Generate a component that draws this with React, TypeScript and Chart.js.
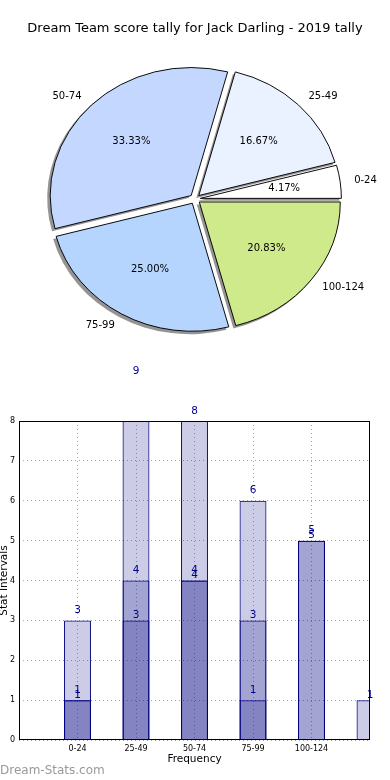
import React, { useEffect, useRef } from 'react';
import { Chart, registerables } from 'chart.js';

Chart.register(...registerables);

// ---------- data ----------
const chartTitle = 'Dream Team score tally for Jack Darling - 2019 tally';
const pieLabels = ['0-24', '25-49', '50-74', '75-99', '100-124'];
const pieValues = [1, 4, 8, 6, 5];
const pieColors = ['#ffffff', '#eaf1ff', '#c4d8ff', '#b5d5ff', '#cfea8b'];

const barCategories = ['0-24', '25-49', '50-74', '75-99', '100-124', ''];
const seriesA: (number | null)[] = [3, 9, 8, 6, null, null];
const seriesB: (number | null)[] = [1, 4, 4, 1, 5, null];
const seriesC: (number | null)[] = [1, 3, 4, 3, 5, 1];
const yTickValues = [0, 1, 2, 3, 4, 5, 6, 7, 8];
const xAxisTitle = 'Frequency';
const yAxisTitle = 'Stat Intervals';
const watermark = 'Dream-Stats.com';

// ---------- style constants ----------
const FONT = '"DejaVu Sans", sans-serif';
const SY = 128 / 141; // vertical squash of the pie (ellipse)
const EXPLODE = 5.4;
const LABEL_OFFSETS = [10, 10, 5];

const pieDecor = {
  id: 'pieDecor',
  afterDatasetsUpdate(chart: any) {
    const meta = chart.getDatasetMeta(0);
    meta.data.forEach((arc: any) => {
      const mid = (arc.startAngle + arc.endAngle) / 2;
      arc.x += Math.cos(mid) * EXPLODE;
      arc.y += Math.sin(mid) * EXPLODE;
    });
  },
  beforeDatasetsDraw(chart: any) {
    const { ctx, chartArea } = chart;
    const cx = (chartArea.left + chartArea.right) / 2;
    const cy = (chartArea.top + chartArea.bottom) / 2;
    const meta = chart.getDatasetMeta(0);
    // shadow pass
    ctx.save();
    ctx.translate(-2.5, 2.5);
    ctx.translate(cx, cy);
    ctx.scale(1, SY);
    ctx.translate(-cx, -cy);
    ctx.fillStyle = 'rgba(0,0,0,0.42)';
    meta.data.forEach((arc: any) => {
      ctx.beginPath();
      ctx.moveTo(arc.x, arc.y);
      ctx.arc(arc.x, arc.y, arc.outerRadius + 0.5, arc.startAngle, arc.endAngle);
      ctx.closePath();
      ctx.fill();
    });
    ctx.restore();
    // ellipse transform for the slices themselves
    ctx.save();
    ctx.translate(cx, cy);
    ctx.scale(1, SY);
    ctx.translate(-cx, -cy);
  },
  afterDatasetsDraw(chart: any) {
    const { ctx, chartArea } = chart;
    ctx.restore();
    const cy = (chartArea.top + chartArea.bottom) / 2;
    const meta = chart.getDatasetMeta(0);
    const data = chart.data.datasets[0].data as number[];
    const labels = chart.data.labels as string[];
    const total = data.reduce((a, b) => a + b, 0);
    ctx.save();
    ctx.font = `10px ${FONT}`;
    ctx.fillStyle = '#000';
    ctx.textBaseline = 'middle';
    meta.data.forEach((arc: any, i: number) => {
      const mid = (arc.startAngle + arc.endAngle) / 2;
      const R = arc.outerRadius;
      const c = Math.cos(mid);
      const s = Math.sin(mid);
      const lx = arc.x + c * R * 1.1;
      const ly = cy + (arc.y + s * R * 1.1 - cy) * SY;
      ctx.textAlign = c > 0 ? 'left' : 'right';
      ctx.fillText(labels[i], lx, ly);
      const px = arc.x + c * R * 0.6;
      const py = cy + (arc.y + s * R * 0.6 - cy) * SY;
      ctx.textAlign = 'center';
      ctx.fillText(((data[i] / total) * 100).toFixed(2) + '%', px, py);
    });
    ctx.restore();
  },
  afterDraw(chart: any) {
    const { ctx } = chart;
    ctx.save();
    ctx.font = `13px ${FONT}`;
    ctx.fillStyle = '#000';
    ctx.textAlign = 'center';
    ctx.textBaseline = 'middle';
    ctx.fillText(chartTitle, 195, 29);
    ctx.restore();
  },
};

const barSeries = [seriesA, seriesB, seriesC];

const barDecor = {
  id: 'barDecor',
  afterDatasetsDraw(chart: any) {
    const { ctx } = chart;
    ctx.save();
    ctx.font = `10.5px ${FONT}`;
    ctx.fillStyle = '#00008b';
    ctx.textAlign = 'center';
    ctx.textBaseline = 'middle';
    barSeries.forEach((series, di) => {
      const meta = chart.getDatasetMeta(di);
      meta.data.forEach((bar: any, j: number) => {
        const v = series[j];
        if (v == null) return;
        ctx.fillText(String(v), bar.x, bar.y - LABEL_OFFSETS[di]);
      });
    });
    ctx.restore();
  },
  afterDraw(chart: any) {
    const { ctx, chartArea } = chart;
    ctx.save();
    ctx.strokeStyle = '#000';
    ctx.lineWidth = 1;
    const l = Math.round(chartArea.left) + 0.5;
    const t = Math.round(chartArea.top) + 0.5;
    const r = Math.round(chartArea.right) - 0.5;
    const b = Math.round(chartArea.bottom) - 0.5;
    ctx.strokeRect(l, t, r - l, b - t);
    ctx.restore();
  },
};

export default function App() {
  const pieRef = useRef<HTMLCanvasElement>(null);
  const barRef = useRef<HTMLCanvasElement>(null);

  useEffect(() => {
    const order = pieLabels.map((_, i) => pieLabels.length - 1 - i);
    const pie = new Chart(pieRef.current as HTMLCanvasElement, {
      type: 'pie',
      data: {
        labels: order.map((i) => pieLabels[i]),
        datasets: [
          {
            data: order.map((i) => pieValues[i]),
            backgroundColor: order.map((i) => pieColors[i]),
            borderColor: '#000',
            borderWidth: 1,
            radius: 141,
            rotation: 90,
          } as any,
        ],
      },
      options: {
        responsive: false,
        animation: false,
        events: [],
        layout: { padding: { top: 43, bottom: 0, left: 0, right: 0 } },
        plugins: { legend: { display: false }, tooltip: { enabled: false }, title: { display: false } },
      } as any,
      plugins: [pieDecor],
    });

    const bar = new Chart(barRef.current as HTMLCanvasElement, {
      type: 'bar',
      data: {
        datasets: barSeries.map((s) => ({
          data: s.map((v, i) => ({ x: i, y: v })),
          backgroundColor: 'rgba(0,0,128,0.2)',
          borderColor: '#000080',
          borderWidth: 1,
          grouped: false,
          barPercentage: 0.46,
          categoryPercentage: 1,
          clip: 0,
        })) as any,
      },
      options: {
        responsive: false,
        animation: false,
        events: [],
        layout: { padding: { top: 66, right: 20, left: 0, bottom: 0 } },
        plugins: { legend: { display: false }, tooltip: { enabled: false } },
        scales: {
          x: {
            type: 'linear',
            offset: false,
            min: -1,
            max: barCategories.length - 1,
            afterBuildTicks: (scale: any) => {
              scale.ticks = barCategories
                .map((c, i) => ({ value: i, label: c }))
                .filter((t) => t.label)
                .map((t) => ({ value: t.value }));
            },
            afterFit: (scale: any) => {
              scale.height = 40;
            },
            ticks: {
              autoSkip: false,
              maxRotation: 0,
              padding: 4,
              color: '#000',
              font: { family: FONT, size: 8 },
              callback: (v: any) => barCategories[v] ?? '',
            },
            grid: { offset: false, color: 'rgba(0,0,0,0.35)', drawTicks: false, lineWidth: 1 },
            border: { display: false, dash: [1, 3] },
            title: {
              display: true,
              text: xAxisTitle,
              color: '#000',
              font: { family: FONT, size: 10.5 },
              padding: { top: 0, bottom: 14 },
            },
          },
          y: {
            min: yTickValues[0],
            max: yTickValues[yTickValues.length - 1],
            afterBuildTicks: (scale: any) => {
              scale.ticks = yTickValues.map((v) => ({ value: v }));
            },
            afterFit: (scale: any) => {
              scale.width = 19;
            },
            ticks: {
              padding: 4,
              color: '#000',
              font: { family: FONT, size: 8 },
            },
            grid: { color: 'rgba(0,0,0,0.35)', drawTicks: false, lineWidth: 1 },
            border: { display: false, dash: [1, 3] },
            title: {
              display: true,
              text: yAxisTitle,
              color: '#000',
              font: { family: FONT, size: 10.5 },
              padding: { top: -2.5, bottom: 0 },
            },
          },
        },
      } as any,
      plugins: [barDecor],
    });

    return () => {
      pie.destroy();
      bar.destroy();
    };
  }, []);

  return (
    <div style={{ position: 'absolute', left: 0, top: 0, width: 390, height: 780, background: '#fff' }}>
      <canvas
        ref={pieRef}
        width={390}
        height={355}
        style={{ position: 'absolute', left: 0, top: 0, width: 390, height: 355 }}
      />
      <canvas
        ref={barRef}
        width={390}
        height={425}
        style={{ position: 'absolute', left: 0, top: 355, width: 390, height: 425 }}
      />
      <div
        style={{
          position: 'absolute',
          left: 0,
          top: 763,
          fontFamily: FONT,
          fontSize: 12,
          lineHeight: '14px',
          color: '#999',
          whiteSpace: 'nowrap',
        }}
      >
        {watermark}
      </div>
    </div>
  );
}
